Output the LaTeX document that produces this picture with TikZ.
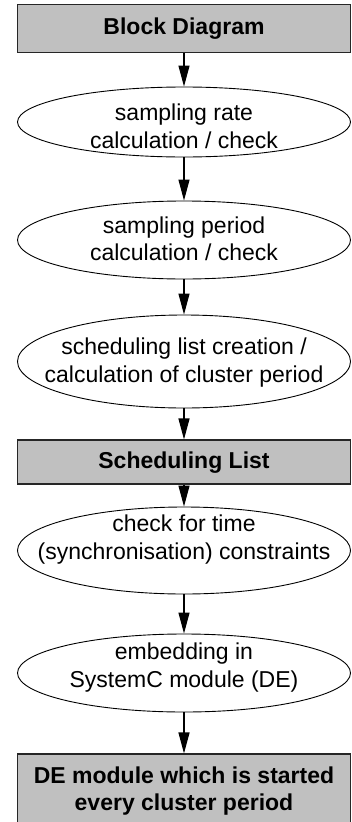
\documentclass[tikz,border=0pt]{standalone}
\usepackage{fontspec}
\setmainfont{Liberation Sans}
\usetikzlibrary{arrows.meta,shapes.geometric}
\newcommand\myup{\rule{0pt}{17pt}}
\newcommand\mydown{\rule[-5pt]{0pt}{5pt}}
\begin{document}
\begin{tikzpicture}[x=1pt,y=-1pt,
  graybox/.style={draw=black!85, line width=1.1pt,
    fill={rgb,255:red,192;green,192;blue,192},
    minimum width=333pt, inner sep=0pt, align=center,
    font=\fontsize{23}{27.5}\selectfont\bfseries},
  oval/.style={draw=black, line width=0.9pt, ellipse,
    minimum width=333pt, inner sep=0pt},
  ovaltext/.style={align=center, inner sep=0pt,
    font=\fontsize{23}{27.5}\selectfont},
  flow/.style={line width=1.2pt, -{Triangle[width=11pt,length=21pt]}}]
\useasboundingbox (0,0) rectangle (351,822);

\node[graybox, minimum height=48pt] (b1) at (184,28.5) {\myup Block Diagram\mydown};

\node[oval, minimum height=70pt] (e1) at (184,122) {};
\node[ovaltext] (t1) at (184,128.5) {\myup sampling rate\\calculation / check\mydown};

\node[oval, minimum height=78pt] (e2) at (184,240) {};
\node[ovaltext] (t2) at (184,241) {\myup sampling period\\calculation / check\mydown};

\node[oval, minimum height=93pt] (e3) at (184,361.5) {};
\node[ovaltext] (t3) at (184,362.5) {\myup scheduling list creation /\\calculation of cluster period\mydown};

\node[graybox, minimum height=44pt] (b2) at (184,462) {\myup Scheduling List\mydown};

\node[oval, minimum height=87pt] (e4) at (184,550.5) {};
\node[ovaltext] (t4) at (184,539.5) {\myup check for time\\(synchronisation) constraints\mydown};

\node[oval, minimum height=78pt] (e5) at (184,673) {};
\node[ovaltext] (t5) at (184,667.5) {\myup embedding in\\SystemC module (DE)\mydown};

\node[graybox, minimum height=74pt] (b3) at (184,791) {\myup DE module which is started\\every cluster period\mydown};

\draw[flow] (b1.south) -- (e1.north);
\draw[flow] (e1.south) -- (e2.north);
\draw[flow] (e2.south) -- (e3.north);
\draw[flow] (e3.south) -- (b2.north);
\draw[flow] (b2.south) -- (e4.north);
\draw[flow] (e4.south) -- (e5.north);
\draw[flow] (e5.south) -- (b3.north);
\end{tikzpicture}
\end{document}
